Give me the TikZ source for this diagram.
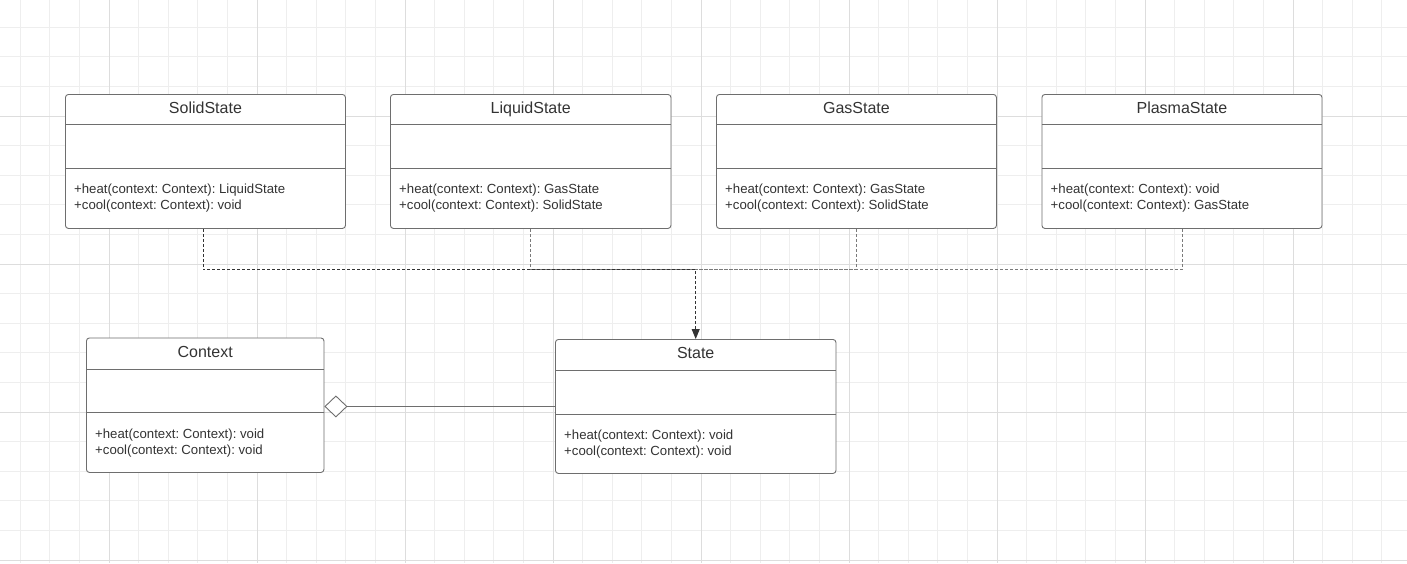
\documentclass[tikz,border=0pt]{standalone}
\usepackage{fontspec}
\setmainfont{Liberation Sans}
\usetikzlibrary{arrows.meta}
\frenchspacing

\definecolor{gridminor}{HTML}{EEEEEE}
\definecolor{gridmajor}{HTML}{DDDDDD}
\definecolor{boxline}{HTML}{6E6E6E}
\definecolor{ink}{HTML}{333333}
\definecolor{linkgray}{HTML}{7A7A7A}

\tikzset{
  classframe/.style={draw=boxline, line width=0.9pt, rounded corners=3pt,
    fill=white, inner sep=0pt, anchor=north west},
  classtitle/.style={font=\fontsize{16}{18}\selectfont, text=ink, inner sep=0pt,
    anchor=base},
  classop/.style={font=\fontsize{13.2}{16}\selectfont, text=ink, inner sep=0pt,
    anchor=base west},
  divider/.style={draw=boxline, line width=0.9pt},
  realize/.style={dash pattern=on 3pt off 2pt, line width=0.9pt},
  aggregation/.style={draw=boxline, line width=0.9pt},
}

% #1 name, #2 x, #3 y (top), #4 width, #5 height, #6 first divider,
% #7 second divider, #8 title, #9 operations (two lines, separated by |)
\def\splitops#1|#2\relax{\def\opone{#1}\def\optwo{#2}}
\newcommand\umlclass[9]{%
  \node[classframe, minimum width=#4pt, minimum height=#5pt] (#1) at (#2,#3) {};
  \draw[divider] ([yshift=-#6pt]#1.north west) -- ([yshift=-#6pt]#1.north east);
  \draw[divider] ([yshift=-#7pt]#1.north west) -- ([yshift=-#7pt]#1.north east);
  \node[classtitle] (#1-title) at ([yshift=-#6pt/2-4pt]#1.north) {#8};
  \splitops#9\relax
  \node[classop] (#1-op1) at ([xshift=9pt,yshift=-#7pt-25.5pt]#1.north west) {\opone};
  \node[classop] (#1-op2) at ([xshift=9pt,yshift=-#7pt-41.5pt]#1.north west) {\optwo};
}

\begin{document}
\begin{tikzpicture}[x=1pt, y=-1pt]
  \useasboundingbox (0,0) rectangle (1407,563);
  \fill[white] (0,0) rectangle (1407,563);

  % background grid
  \begin{scope}
    \clip (0,0) rectangle (1407,563);
    \foreach \i in {0,...,47}
      \draw[gridminor, line width=0.8pt] (20.2+\i*29.6,0) -- (20.2+\i*29.6,563);
    \foreach \j in {0,...,18}
      \draw[gridminor, line width=0.8pt] (0,27.2+\j*29.6) -- (1407,27.2+\j*29.6);
    \foreach \i in {0,...,8}
      \draw[gridmajor, line width=0.8pt] (109+\i*148,0) -- (109+\i*148,563);
    \foreach \j in {0,...,3}
      \draw[gridmajor, line width=0.8pt] (0,116+\j*148) -- (1407,116+\j*148);
  \end{scope}

  % concrete states
  \umlclass{solid}{65}{94}{280}{134}{30}{74}{SolidState}%
    {+heat(context: Context): LiquidState|+cool(context: Context): void}
  \umlclass{liquid}{390}{94}{280.5}{134}{30}{74}{LiquidState}%
    {+heat(context: Context): GasState|+cool(context: Context): SolidState}
  \umlclass{gas}{716}{94}{280}{134}{30}{74}{GasState}%
    {+heat(context: Context): GasState|+cool(context: Context): SolidState}
  \umlclass{plasma}{1041.5}{94}{280}{134}{30}{74}{PlasmaState}%
    {+heat(context: Context): void|+cool(context: Context): GasState}

  % context and state interface
  \umlclass{context}{86}{337.5}{237.5}{134.5}{31.5}{75}{Context}%
    {+heat(context: Context): void|+cool(context: Context): void}
  \umlclass{state}{555}{339}{280.5}{134}{31.5}{75}{State}%
    {+heat(context: Context): void|+cool(context: Context): void}

  % realization links into State
  \coordinate (bus) at (0,269.5);
  \foreach \cls in {liquid, gas, plasma}
    \draw[realize, draw=linkgray] (\cls.south) |- (state.north |- bus);
  \draw[realize, draw=ink, -{Triangle[length=10pt, width=8pt]}]
    ([xshift=-2.5pt]solid.south) |- (state.north |- bus) -- (state.north);

  % aggregation Context <>-- State
  \draw[aggregation, -{Diamond[open, fill=white, length=23pt, width=22pt]}]
    (state.west) -- (context.east |- state.west);
\end{tikzpicture}
\end{document}
